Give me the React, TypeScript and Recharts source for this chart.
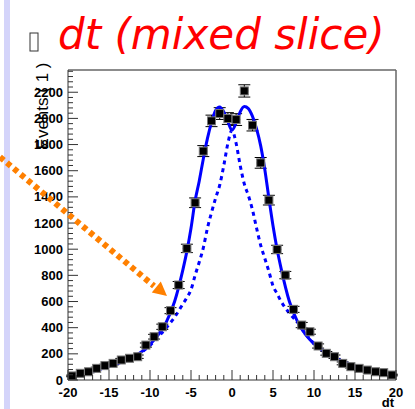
import { ComposedChart, Line, Scatter, ErrorBar, XAxis, YAxis, ReferenceLine } from 'recharts';

// measured dt distribution (bin centres, counts, stat errors)
const binCenters = [
  -19.5, -18.5, -17.5, -16.5, -15.5, -14.5, -13.5, -12.5, -11.5, -10.5,
  -9.5, -8.5, -7.5, -6.5, -5.5, -4.5, -3.5, -2.5, -1.5, -0.5,
  0.5, 1.5, 2.5, 3.5, 4.5, 5.5, 6.5, 7.5, 8.5, 9.5,
  10.5, 11.5, 12.5, 13.5, 14.5, 15.5, 16.5, 17.5, 18.5, 19.5,
];
const counts = [
  31, 51, 63, 89, 110, 127, 153, 166, 178, 267,
  331, 407, 530, 726, 1006, 1355, 1750, 1981, 2037, 1999,
  1991, 2210, 1948, 1660, 1375, 998, 802, 540, 420, 369,
  260, 204, 178, 127, 102, 89, 76, 63, 56, 38,
];
const countErrors = [
  6, 7, 8, 9, 10, 11, 12, 13, 13, 16,
  18, 20, 23, 27, 32, 37, 42, 44, 45, 45,
  45, 47, 44, 41, 37, 32, 28, 23, 20, 19,
  16, 14, 13, 11, 10, 9, 9, 8, 7, 6,
];
const BIN_HALF_WIDTH = 0.5;

// fit curves
const fitX = [
  -20, -18, -16, -14, -12, -10, -9, -8, -7, -6, -5.5, -5, -4.5, -4, -3.5, -3, -2.5, -2, -1.5, -1, -0.5,
  0, 0.5, 1, 1.5, 2, 2.5, 3, 3.5, 4, 4.5, 5, 5.5, 6, 7, 8, 9, 10, 12, 14, 16, 18, 20,
];
const fitTotal = [
  30, 50, 85, 125, 175, 272, 345, 445, 600, 840, 985, 1160, 1370, 1520, 1690, 1845, 1970, 2060, 2088, 2050, 1975,
  1910, 1965, 2050, 2090, 2075, 2015, 1920, 1790, 1610, 1390, 1180, 1000, 850, 600, 445, 345, 278, 190, 128, 85, 55, 35,
];
const fitCore = [
  30, 50, 85, 125, 175, 265, 330, 400, 480, 580, 630, 690, 800, 900, 1010, 1160, 1280, 1390, 1490, 1640, 1810,
  1910, 1810, 1640, 1500, 1410, 1300, 1160, 1030, 930, 830, 720, 660, 600, 510, 440, 350, 280, 190, 128, 85, 55, 35,
];

const xMajorTicks = [-20, -15, -10, -5, 0, 5, 10, 15, 20];
const yMajorTicks = [0, 200, 400, 600, 800, 1000, 1200, 1400, 1600, 1800, 2000, 2200];
const Y_MAX = 2370;

const xTicks: number[] = [];
for (let v = -20; v <= 20; v += 1) xTicks.push(v);
const yTicks: number[] = [];
for (let v = 0; v <= Y_MAX; v += 40) yTicks.push(v);

const points = binCenters.map((x, i) => ({ x, y: counts[i], ey: countErrors[i], ex: BIN_HALF_WIDTH }));
const fitData = fitX.map((x, i) => ({ x, total: fitTotal[i], core: fitCore[i] }));

const tickFont = { fontFamily: '"Liberation Sans", Arial, sans-serif', fontWeight: 700, fontSize: 13 };

function YTick(props: any) {
  const { x, y, payload } = props;
  const major = yMajorTicks.includes(payload.value);
  return (
    <g>
      <line x1={x} x2={x + (major ? 10 : 5)} y1={y} y2={y} stroke="#333" />
      {major && (
        <text x={x - 5} y={y} dy={4.5} textAnchor="end" fill="#000" style={tickFont}>
          {payload.value}
        </text>
      )}
    </g>
  );
}

function XTick(props: any) {
  const { x, y, payload } = props;
  const major = xMajorTicks.includes(payload.value);
  return (
    <g>
      <line x1={x} x2={x} y1={y} y2={y - (major ? 10 : 5)} stroke="#333" />
      {major && (
        <text x={x} y={y + 17} textAnchor="middle" fill="#000" style={tickFont}>
          {payload.value}
        </text>
      )}
    </g>
  );
}

function BinMarker(props: any) {
  const { cx, cy } = props;
  return <rect x={cx - 4} y={cy - 4} width={8} height={8} fill="#000" stroke="#777" strokeWidth={1} />;
}

export default function App() {
  return (
    <div style={{ position: 'absolute', left: 0, top: 0, width: 415, height: 409, background: '#fff' }}>
      <ComposedChart width={415} height={409} margin={{ top: 70, right: 19, bottom: 0, left: 0 }}>
        <XAxis
          type="number"
          dataKey="x"
          domain={[-20, 20]}
          allowDataOverflow
          ticks={xTicks}
          interval={0}
          tickSize={0}
          tickMargin={0}
          tickLine={false}
          height={29}
          stroke="#333"
          tick={<XTick />}
        />
        <YAxis
          type="number"
          domain={[0, Y_MAX]}
          allowDataOverflow
          ticks={yTicks}
          interval={0}
          tickSize={0}
          tickMargin={0}
          tickLine={false}
          width={68}
          stroke="#333"
          tick={<YTick />}
        />
        <ReferenceLine y={Y_MAX} stroke="#666" strokeWidth={1.5} />
        <ReferenceLine x={20} stroke="#666" strokeWidth={1.5} />
        <Line
          data={fitData}
          dataKey="core"
          type="monotone"
          stroke="#0000ff"
          strokeWidth={3}
          strokeDasharray="4 4"
          dot={false}
          isAnimationActive={false}
        />
        <Scatter data={points} dataKey="y" shape={<BinMarker />} isAnimationActive={false}>
          <ErrorBar dataKey="ey" direction="y" width={6} stroke="#000" strokeWidth={1} />
          <ErrorBar dataKey="ex" direction="x" width={0} stroke="#000" strokeWidth={1} />
        </Scatter>
        <Line
          data={fitData}
          dataKey="total"
          type="monotone"
          stroke="#0000ff"
          strokeWidth={3}
          dot={false}
          isAnimationActive={false}
        />
      </ComposedChart>
      <svg width={415} height={409} style={{ position: 'absolute', left: 0, top: 0, pointerEvents: 'none' }}>
        <rect x={4} y={0} width={6} height={409} fill="#d4d4fa" />
        <rect x={30} y={33} width={8} height={18} fill="none" stroke="#333" />
        <text
          x={58}
          y={49}
          fill="#ff0000"
          style={{ fontFamily: '"DejaVu Sans", Verdana, sans-serif', fontStyle: 'italic', fontSize: 42 }}
        >
          dt (mixed slice)
        </text>
        <text
          transform="translate(48,106) rotate(-90)"
          textAnchor="middle"
          fill="#000"
          style={{ fontFamily: '"Liberation Sans", Arial, sans-serif', fontSize: 17 }}
        >
          Events ( 1 )
        </text>
        <text x={388} y={407} textAnchor="middle" fill="#000" style={tickFont}>
          dt
        </text>
        <line x1={0} y1={157} x2={154} y2={286} stroke="#ff8000" strokeWidth={6} strokeDasharray="5 4" />
        <polygon points="167,296 151.8,292.4 160.8,281.6" fill="#ff8000" />
      </svg>
    </div>
  );
}
